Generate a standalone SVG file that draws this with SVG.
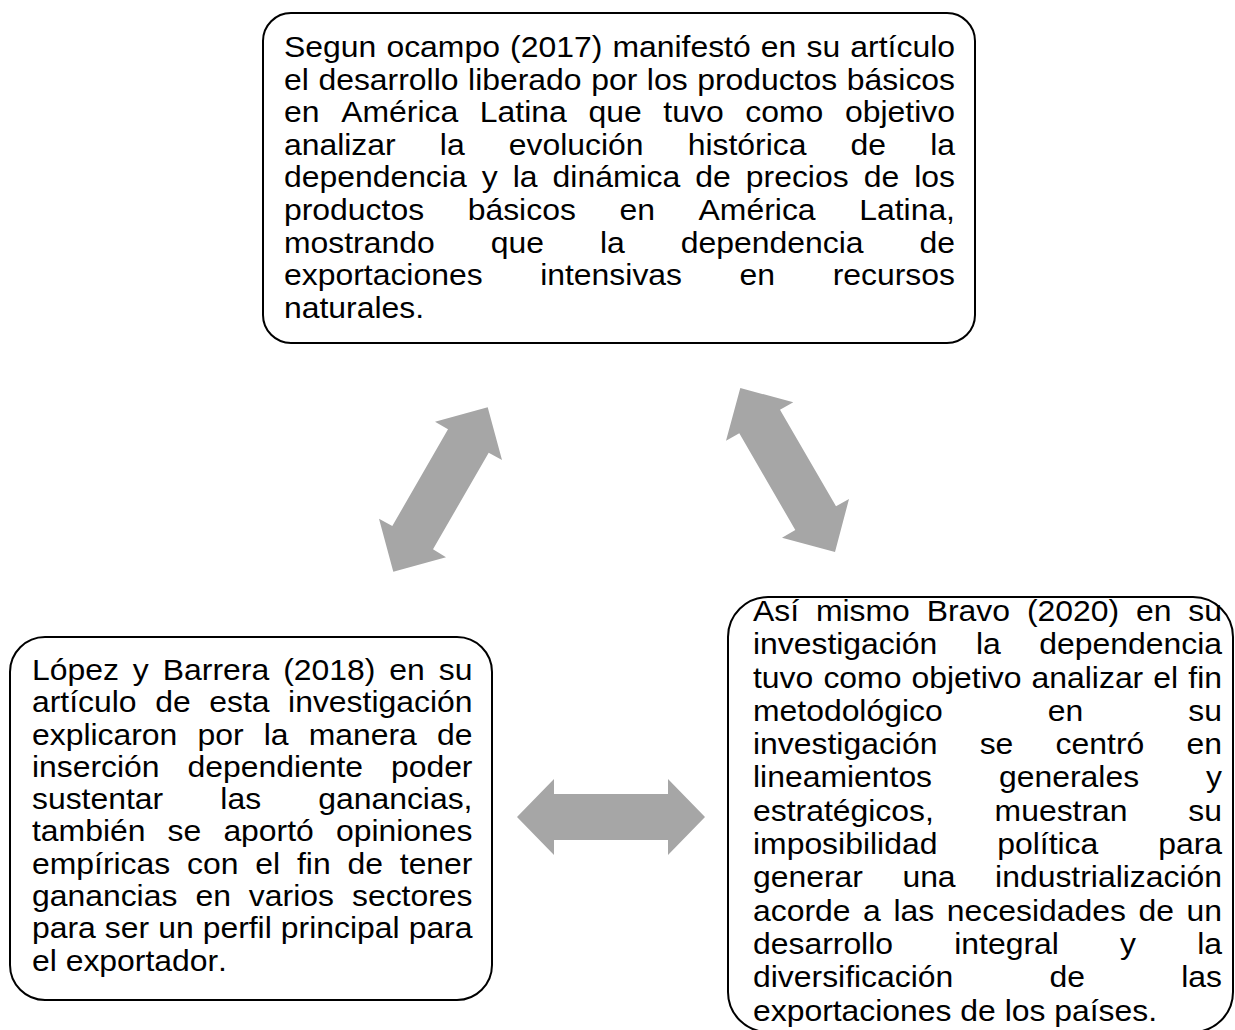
<svg xmlns="http://www.w3.org/2000/svg" width="1235" height="1030" viewBox="0 0 1235 1030">
<style>
.box{fill:#fff;stroke:#000;stroke-width:2}
.t{font-family:"Liberation Sans",Arial,sans-serif;font-size:29px;fill:#000;font-kerning:none}
.arrow{fill:#A6A6A6;stroke:none}
</style>
<rect width="1235" height="1030" fill="#fff"/>
<g id="connectors">
<polygon class="arrow" points="435,421.7 487.7,407.3 502,460 488.7,452.7 433,549.3 446,557.3 393.3,571.7 379,518.7 392.3,526 448,429.3"/>
<polygon class="arrow" points="740.3,388 793.3,402.3 780,409.7 836,506.3 849,499 835,552 782,537.7 795.3,530 739.3,433.3 726,440.7"/>
<polygon class="arrow" points="517,817 554,779 554,794 668,794 668,779 705,817 668,855 668,840 554,840 554,855"/>
</g>
<g id="node-ocampo">
<rect class="box" x="263" y="13" width="712" height="330" rx="28" ry="28"/>
<g transform="scale(1.1,1)">
<text class="t" x="258.18" y="57" word-spacing="1.19" textLength="610" lengthAdjust="spacing">Segun ocampo (2017) manifestó en su artículo</text>
<text class="t" x="258.18" y="89.6" word-spacing="0.67" textLength="610" lengthAdjust="spacing">el desarrollo liberado por los productos básicos</text>
<text class="t" x="258.18" y="122.2" word-spacing="11.67" textLength="610" lengthAdjust="spacing">en América Latina que tuvo como objetivo</text>
<text class="t" x="258.18" y="154.8" word-spacing="32.07" textLength="610" lengthAdjust="spacing">analizar la evolución histórica de la</text>
<text class="t" x="258.18" y="187.4" word-spacing="5.64" textLength="610" lengthAdjust="spacing">dependencia y la dinámica de precios de los</text>
<text class="t" x="258.18" y="220" word-spacing="31.61" textLength="610" lengthAdjust="spacing">productos básicos en América Latina,</text>
<text class="t" x="258.18" y="252.6" word-spacing="42.91" textLength="610" lengthAdjust="spacing">mostrando que la dependencia de</text>
<text class="t" x="258.18" y="285.2" word-spacing="44.31" textLength="610" lengthAdjust="spacing">exportaciones intensivas en recursos</text>
<text class="t" x="258.18" y="317.8">naturales.</text>
</g>
</g>
<g id="node-lopez">
<rect class="box" x="10" y="637" width="482" height="363" rx="35" ry="35"/>
<g transform="scale(1.1,1)">
<text class="t" x="29.09" y="680" word-spacing="4.66" textLength="400.45" lengthAdjust="spacing">López y Barrera (2018) en su</text>
<text class="t" x="29.09" y="712.3" word-spacing="8.83" textLength="400.45" lengthAdjust="spacing">artículo de esta investigación</text>
<text class="t" x="29.09" y="744.6" word-spacing="10.26" textLength="400.45" lengthAdjust="spacing">explicaron por la manera de</text>
<text class="t" x="29.09" y="776.9" word-spacing="17.32" textLength="400.45" lengthAdjust="spacing">inserción dependiente poder</text>
<text class="t" x="29.09" y="809.2" word-spacing="43.87" textLength="400.45" lengthAdjust="spacing">sustentar las ganancias,</text>
<text class="t" x="29.09" y="841.5" word-spacing="12.05" textLength="400.45" lengthAdjust="spacing">también se aportó opiniones</text>
<text class="t" x="29.09" y="873.8" word-spacing="7.24" textLength="400.45" lengthAdjust="spacing">empíricas con el fin de tener</text>
<text class="t" x="29.09" y="906.1" word-spacing="8.3" textLength="400.45" lengthAdjust="spacing">ganancias en varios sectores</text>
<text class="t" x="29.09" y="938.4" word-spacing="0.15" textLength="400.45" lengthAdjust="spacing">para ser un perfil principal para</text>
<text class="t" x="29.09" y="970.7">el exportador.</text>
</g>
</g>
<g id="node-bravo">
<rect class="box" x="728" y="597" width="505" height="435" rx="40" ry="40"/>
<g transform="scale(1.1,1)">
<text class="t" x="684.55" y="621" word-spacing="7.27" textLength="426.36" lengthAdjust="spacing">Así mismo Bravo (2020) en su</text>
<text class="t" x="684.55" y="654.3" word-spacing="27.06" textLength="426.36" lengthAdjust="spacing">investigación la dependencia</text>
<text class="t" x="684.55" y="687.6" word-spacing="1.14" textLength="426.36" lengthAdjust="spacing">tuvo como objetivo analizar el fin</text>
<text class="t" x="684.55" y="720.9" word-spacing="87.45" textLength="426.36" lengthAdjust="spacing">metodológico en su</text>
<text class="t" x="684.55" y="754.2" word-spacing="30.36" textLength="426.36" lengthAdjust="spacing">investigación se centró en</text>
<text class="t" x="684.55" y="787.5" word-spacing="52.81" textLength="426.36" lengthAdjust="spacing">lineamientos generales y</text>
<text class="t" x="684.55" y="820.8" word-spacing="47.17" textLength="426.36" lengthAdjust="spacing">estratégicos, muestran su</text>
<text class="t" x="684.55" y="854.1" word-spacing="46.37" textLength="426.36" lengthAdjust="spacing">imposibilidad política para</text>
<text class="t" x="684.55" y="887.4" word-spacing="27.83" textLength="426.36" lengthAdjust="spacing">generar una industrialización</text>
<text class="t" x="684.55" y="920.7" word-spacing="3.38" textLength="426.36" lengthAdjust="spacing">acorde a las necesidades de un</text>
<text class="t" x="684.55" y="954" word-spacing="47.57" textLength="426.36" lengthAdjust="spacing">desarrollo integral y la</text>
<text class="t" x="684.55" y="987.3" word-spacing="79.42" textLength="426.36" lengthAdjust="spacing">diversificación de las</text>
<text class="t" x="684.55" y="1020.6">exportaciones de los países.</text>
</g>
</g>
</svg>
